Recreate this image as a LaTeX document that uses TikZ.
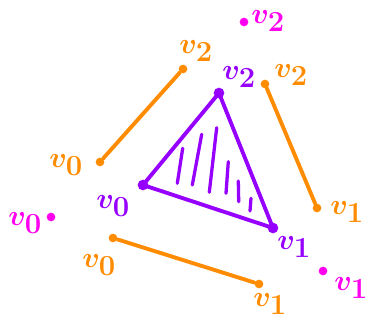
\documentclass[tikz,border=0pt]{standalone}
\usepackage{tikz}

\definecolor{naranja}{RGB}{255,140,0}
\definecolor{morado}{RGB}{150,0,255}
\definecolor{magenta2}{RGB}{255,0,240}

\begin{document}
\begin{tikzpicture}[
    x=0.03cm, y=-0.03cm,
    % Estilo para los vertices
    vert/.style={circle, fill, inner sep=0pt, minimum size=0.32cm},
    punto/.style={circle, fill, inner sep=0pt, minimum size=0.26cm},
    % Estilo para las aristas
    arista/.style={line width=3.3pt, line cap=round},
    rayado/.style={line width=2.8pt, line cap=round, morado},
    % Estilo para las etiquetas
    etiq/.style={inner sep=0pt, font=\fontsize{36}{38}\selectfont\boldmath}
]
    \useasboundingbox (0,0) rectangle (368,320);

    % ==========================================
    % TRIANGULO (simplex)
    % ==========================================
    \node[vert, morado] (v2) at (219,93) {};
    \node[vert, morado] (v0) at (143,185) {};
    \node[vert, morado] (v1) at (273,228) {};
    \draw[arista, morado] (v0.center) -- (v2.center) -- (v1.center) -- cycle;

    % Rayado interior
    \draw[rayado] (182.7,148.3) -- (177.3,183.3);
    \draw[rayado] (201.7,134.3) -- (192.3,185);
    \draw[rayado] (216.7,127.7) -- (209.3,192.3);
    \draw[rayado] (228.3,161.7) -- (226,193.3);
    \draw[rayado] (238.3,181) -- (238.7,201.7);
    \draw[rayado] (251,198.3) -- (250,211);

    \node[etiq, morado] (l_v2) at (239,77) {$v_2$};
    \node[etiq, morado] (l_v0) at (113,206) {$v_0$};
    \node[etiq, morado] (l_v1) at (294,247) {$v_1$};

    % ==========================================
    % ARISTAS SEPARADAS (naranja)
    % ==========================================
    \node[punto, naranja] (a0) at (100,162) {};
    \node[punto, naranja] (a2) at (183,69) {};
    \draw[arista, naranja] (a0) -- (a2);
    \node[etiq, naranja] (l_a0) at (66,165) {$v_0$};
    \node[etiq, naranja] (l_a2) at (196,51) {$v_2$};

    \node[punto, naranja] (b2) at (265,84) {};
    \node[punto, naranja] (b1) at (317,208) {};
    \draw[arista, naranja] (b2) -- (b1);
    \node[etiq, naranja] (l_b2) at (291,75) {$v_2$};
    \node[etiq, naranja] (l_b1) at (347,212) {$v_1$};

    \node[punto, naranja] (c0) at (113,238) {};
    \node[punto, naranja] (c1) at (259,284) {};
    \draw[arista, naranja] (c0) -- (c1);
    \node[etiq, naranja] (l_c0) at (99,265) {$v_0$};
    \node[etiq, naranja] (l_c1) at (270,304) {$v_1$};

    % ==========================================
    % PUNTOS SUELTOS (magenta)
    % ==========================================
    \node[punto, magenta2] (p0) at (51,217) {};
    \node[etiq, magenta2] (l_p0) at (25,223) {$v_0$};
    \node[punto, magenta2] (p2) at (244,22) {};
    \node[etiq, magenta2] (l_p2) at (268,21) {$v_2$};
    \node[punto, magenta2] (p1) at (323,271) {};
    \node[etiq, magenta2] (l_p1) at (351,288) {$v_1$};
\end{tikzpicture}
\end{document}
